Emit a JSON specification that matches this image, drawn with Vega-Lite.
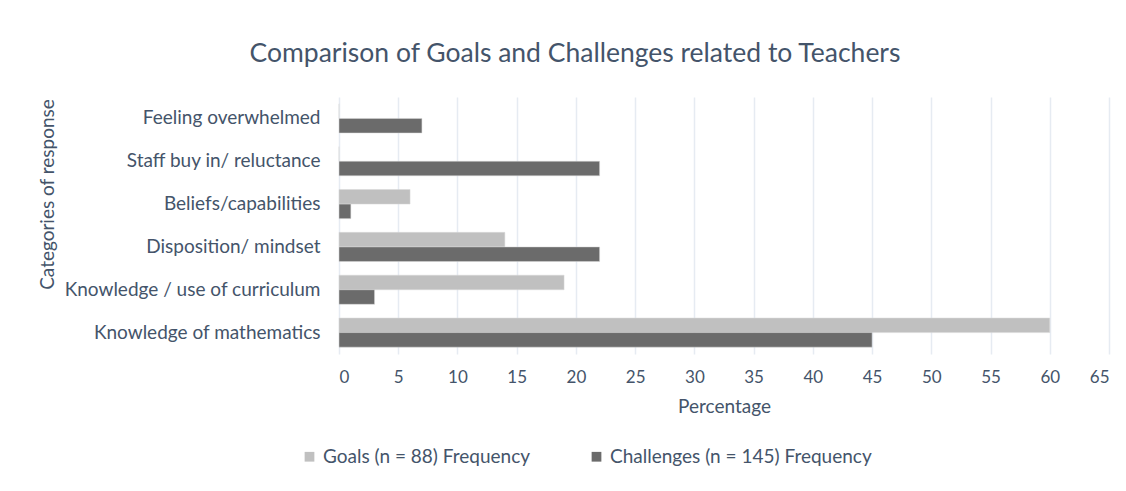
{
  "$schema": "https://vega.github.io/schema/vega-lite/v6.json",
  "autosize": {"type": "none"},
  "padding": {"left": 339, "top": 97, "right": 17, "bottom": 137},
  "width": 770,
  "height": 257,
  "background": "white",
  "title": {
    "text": "Comparison of Goals and Challenges related to Teachers",
    "font": "Lato",
    "fontSize": 26.5,
    "fontWeight": "normal",
    "color": "#44546A",
    "anchor": "middle",
    "dx": -149,
    "offset": 30
  },
  "data": {
    "values": [
      {"category": "Feeling overwhelmed", "series": "Goals (n = 88) Frequency", "value": 0},
      {"category": "Feeling overwhelmed", "series": "Challenges (n = 145) Frequency", "value": 7},
      {"category": "Staff buy in/ reluctance", "series": "Goals (n = 88) Frequency", "value": 0},
      {"category": "Staff buy in/ reluctance", "series": "Challenges (n = 145) Frequency", "value": 22},
      {"category": "Beliefs/capabilities", "series": "Goals (n = 88) Frequency", "value": 6},
      {"category": "Beliefs/capabilities", "series": "Challenges (n = 145) Frequency", "value": 1},
      {"category": "Disposition/ mindset", "series": "Goals (n = 88) Frequency", "value": 14},
      {"category": "Disposition/ mindset", "series": "Challenges (n = 145) Frequency", "value": 22},
      {"category": "Knowledge / use of curriculum", "series": "Goals (n = 88) Frequency", "value": 19},
      {"category": "Knowledge / use of curriculum", "series": "Challenges (n = 145) Frequency", "value": 3},
      {"category": "Knowledge of mathematics", "series": "Goals (n = 88) Frequency", "value": 60},
      {"category": "Knowledge of mathematics", "series": "Challenges (n = 145) Frequency", "value": 45}
    ]
  },
  "mark": {"type": "bar", "stroke": "#d9d9d9", "strokeWidth": 0.5},
  "encoding": {
    "y": {
      "field": "category",
      "type": "nominal",
      "sort": ["Feeling overwhelmed", "Staff buy in/ reluctance", "Beliefs/capabilities", "Disposition/ mindset", "Knowledge / use of curriculum", "Knowledge of mathematics"],
      "scale": {"paddingInner": 0.32, "paddingOuter": 0.16},
      "axis": {
        "title": "Categories of response",
        "titleFont": "Lato",
        "titleFontSize": 19,
        "titleFontWeight": "normal",
        "titleColor": "#44546A",
        "titleX": -282,
        "titleY": 97,
        "titleAngle": -90,
        "labelFont": "Lato",
        "labelFontSize": 19,
        "labelColor": "#44546A",
        "labelPadding": 19,
        "labelLimit": 0,
        "domain": false,
        "ticks": false,
        "grid": false
      }
    },
    "yOffset": {
      "field": "series",
      "type": "nominal",
      "sort": ["Goals (n = 88) Frequency", "Challenges (n = 145) Frequency"]
    },
    "x": {
      "field": "value",
      "type": "quantitative",
      "scale": {"domain": [0, 65], "nice": false},
      "axis": {
        "title": "Percentage",
        "values": [0, 5, 10, 15, 20, 25, 30, 35, 40, 45, 50, 55, 60, 65],
        "titleFont": "Lato",
        "titleFontSize": 19,
        "titleFontWeight": "normal",
        "titleColor": "#44546A",
        "titlePadding": 12,
        "labelFont": "Lato",
        "labelFontSize": 17,
        "labelColor": "#44546A",
        "labelPadding": 15,
        "domain": false,
        "ticks": false,
        "grid": true,
        "gridColor": "#E6EBF2",
        "gridWidth": 1.5
      }
    },
    "color": {
      "field": "series",
      "type": "nominal",
      "sort": ["Goals (n = 88) Frequency", "Challenges (n = 145) Frequency"],
      "scale": {"range": ["#C0C0C0", "#6B6B6B"]},
      "legend": {
        "title": null,
        "orient": "none",
        "direction": "horizontal",
        "legendX": -39,
        "legendY": 350,
        "symbolType": "square",
        "symbolSize": 95,
        "symbolStrokeWidth": 0,
        "labelFont": "Lato",
        "labelFontSize": 19,
        "labelColor": "#44546A",
        "labelLimit": 0,
        "labelOffset": 4,
        "columnPadding": 56
      }
    }
  },
  "config": {"view": {"stroke": null}}
}
